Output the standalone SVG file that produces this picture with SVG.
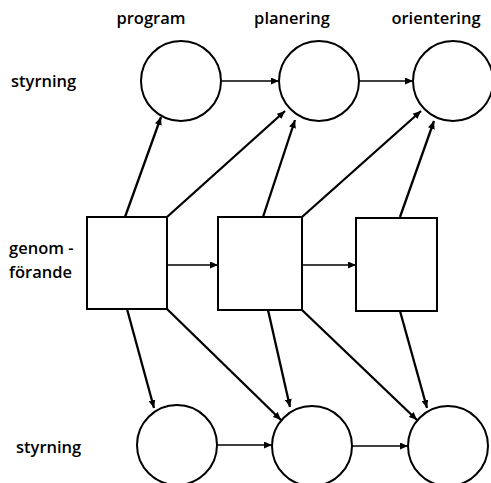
<svg xmlns="http://www.w3.org/2000/svg" width="491" height="483" viewBox="0 0 491 483">
<style>
.n{fill:#fff;stroke:#000;stroke-width:2}
.t{font-family:"Open Sans","DejaVu Sans",sans-serif;font-size:16.5px;font-weight:600;fill:#000}
.h{stroke:#000;stroke-width:1.5;fill:none;marker-end:url(#a)}
.d{stroke:#000;stroke-width:2.3;fill:none;marker-end:url(#a)}
</style>
<defs>
<marker id="a" viewBox="0 0 10 10" refX="10" refY="5" markerWidth="8" markerHeight="7" markerUnits="userSpaceOnUse" orient="auto" preserveAspectRatio="none">
<path d="M0,0 L10,5 L0,10 z" fill="#000"/>
</marker>
</defs>
<rect width="491" height="483" fill="#fff"/>
<g id="labels">
<text class="t" x="151" y="24" text-anchor="middle">program</text>
<text class="t" x="292" y="24" text-anchor="middle">planering</text>
<text class="t" x="436" y="24" text-anchor="middle">orientering</text>
<text class="t" x="11" y="87">styrning</text>
<text class="t" x="9" y="254">genom -</text>
<text class="t" x="9" y="278">förande</text>
<text class="t" x="16" y="453">styrning</text>
</g>
<g id="c1"><circle class="n" cx="181" cy="81" r="40"/></g>
<g id="c2"><circle class="n" cx="319" cy="81" r="40"/></g>
<g id="c3"><circle class="n" cx="453" cy="81" r="40"/></g>
<g id="b1"><rect class="n" x="87" y="217" width="80" height="92"/></g>
<g id="b2"><rect class="n" x="218" y="217" width="84" height="93"/></g>
<g id="b3"><rect class="n" x="356" y="218" width="81" height="93"/></g>
<g id="c4"><circle class="n" cx="177" cy="445" r="40"/></g>
<g id="c5"><circle class="n" cx="312" cy="446" r="40"/></g>
<g id="c6"><circle class="n" cx="448" cy="446" r="40"/></g>
<g id="connectors">
<path class="h" d="M222,81 L279,81"/>
<path class="h" d="M359,81 L413,81"/>
<path class="h" d="M167,265 L218,265"/>
<path class="h" d="M302,265 L356,265"/>
<path class="h" d="M217,445 L272,445"/>
<path class="h" d="M352,446 L408,446"/>
<path class="d" d="M125,217 L161,117"/>
<path class="d" d="M167,217 L285,111"/>
<path class="d" d="M263,217 L295,120"/>
<path class="d" d="M302,217 L421,111"/>
<path class="d" d="M400,217 L434,121"/>
<path class="d" d="M127,309 L154,408"/>
<path class="d" d="M167,309 L281,420"/>
<path class="d" d="M268,310 L290,407"/>
<path class="d" d="M302,310 L417,420"/>
<path class="d" d="M400,311 L427,408"/>
</g>
</svg>
